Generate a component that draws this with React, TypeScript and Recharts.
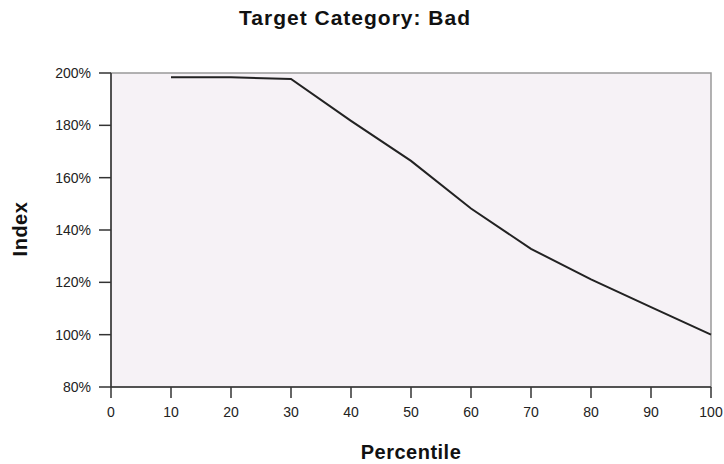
import { LineChart, Line, XAxis, YAxis, ReferenceArea } from "recharts";

const percentiles = [10, 20, 30, 40, 50, 60, 70, 80, 90, 100];
const indexValues = [198.4, 198.4, 197.7, 181.7, 166.4, 148.2, 132.8, 121.1, 110.5, 100];
const xTicks = [0, 10, 20, 30, 40, 50, 60, 70, 80, 90, 100];
const yTicks = [80, 100, 120, 140, 160, 180, 200];

const data = percentiles.map((p, i) => ({ percentile: p, index: indexValues[i] }));

const FONT = "'Liberation Sans', Arial, sans-serif";
const tickStyle = { fontSize: 14, fill: "#222", fontFamily: FONT };

export default function App() {
  return (
    <div style={{ position: "absolute", left: 0, top: 0, width: 724, height: 464, background: "#fff", fontFamily: FONT }}>
      <div
        style={{
          position: "absolute",
          left: 355,
          top: 6,
          transform: "translateX(-50%)",
          whiteSpace: "nowrap",
          fontSize: 21,
          letterSpacing: 1,
          fontWeight: "bold",
          color: "#111",
        }}
      >
        Target Category: Bad
      </div>
      <div
        style={{
          position: "absolute",
          left: 20,
          top: 229,
          transform: "translate(-50%, -50%) rotate(-90deg)",
          fontSize: 20,
          letterSpacing: 0.5,
          fontWeight: "bold",
          color: "#111",
        }}
      >
        Index
      </div>
      <div
        style={{
          position: "absolute",
          left: 411,
          top: 441,
          transform: "translateX(-50%)",
          whiteSpace: "nowrap",
          fontSize: 20,
          letterSpacing: 0.5,
          fontWeight: "bold",
          color: "#111",
        }}
      >
        Percentile
      </div>
      <LineChart width={724} height={464} data={data} margin={{ top: 73, right: 13, bottom: 47, left: 51 }}>
        <ReferenceArea x1={0} x2={100} y1={80} y2={200} fill="#F6F2F6" fillOpacity={1} stroke="#999" strokeWidth={1.5} />
        <XAxis
          type="number"
          dataKey="percentile"
          domain={[0, 100]}
          ticks={xTicks}
          interval={0}
          height={30}
          tickSize={11}
          tickMargin={9}
          tick={tickStyle}
          stroke="#333"
          strokeWidth={1.5}
        />
        <YAxis
          type="number"
          domain={[80, 200]}
          ticks={yTicks}
          interval={0}
          width={60}
          tickSize={12}
          tickMargin={8}
          tick={tickStyle}
          tickFormatter={(v) => `${v}%`}
          stroke="#333"
          strokeWidth={1.5}
        />
        <Line
          type="linear"
          dataKey="index"
          stroke="#222"
          strokeWidth={2}
          dot={false}
          isAnimationActive={false}
        />
      </LineChart>
    </div>
  );
}
